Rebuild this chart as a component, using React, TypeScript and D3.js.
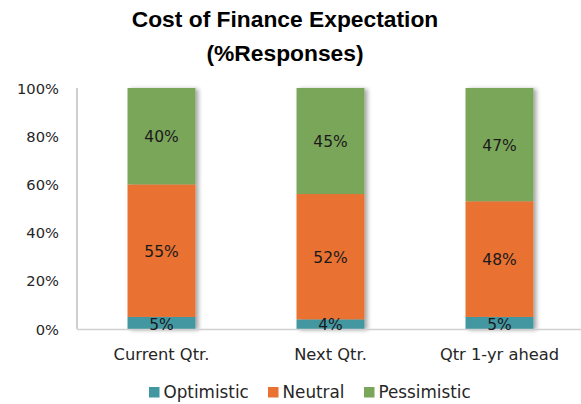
import React from "react";
import * as d3 from "d3";

const categories = ["Current Qtr.", "Next Qtr.", "Qtr 1-yr ahead"];
const seriesNames = ["Optimistic", "Neutral", "Pessimistic"];
const optimistic = [5, 4, 5];
const neutral = [55, 52, 48];
const pessimistic = [40, 45, 47];
const yTicks = [0, 20, 40, 60, 80, 100];
const colors = ["#4397A1", "#E97132", "#7AA65A"];

export default function App() {
  const W = 581, H = 404;
  const x = d3.scaleBand<string>().domain(categories).range([77, 584]).paddingInner(0.598).paddingOuter(0.299);
  const y = d3.scaleLinear().domain([0, 100]).range([329, 88]).clamp(true);
  const rows = categories.map((c, i) => ({ cat: c, Optimistic: optimistic[i], Neutral: neutral[i], Pessimistic: pessimistic[i] }));
  const stack = d3.stack<any>().keys(seriesNames)(rows);
  const font = "'DejaVu Sans', 'Liberation Sans', sans-serif";
  const titleFont = "'Liberation Sans', Arial, sans-serif";
  const legendSq = [149, 268, 364];
  return (
    <svg width={W} height={H} style={{ position: "absolute", left: 0, top: 0 }} fontFamily={font}>
      <defs>
        <filter id="sh" x="-20%" y="-5%" width="150%" height="110%">
          <feDropShadow dx="3" dy="1" stdDeviation="2" floodColor="#000" floodOpacity="0.35" />
        </filter>
      </defs>
      <rect width={W} height={H} fill="#fff" />
      <text x={285} y={27} textAnchor="middle" fontSize={22.8} fontWeight="bold" fill="#000" fontFamily={titleFont}>Cost of Finance Expectation</text>
      <text x={285} y={61} textAnchor="middle" fontSize={22.8} fontWeight="bold" fill="#000" fontFamily={titleFont}>(%Responses)</text>
      {yTicks.map((t) => (
        <text key={t} x={59} y={y(t) + 5.5} textAnchor="end" fontSize={14.7} fill="#262626">{t}%</text>
      ))}
      <line x1={77} x2={77} y1={88} y2={329} stroke="#BFBFBF" strokeWidth={1.5} />
      {categories.map((c, i) => (
        <g key={c} filter="url(#sh)">
          {stack.map((s, k) => (
            <rect key={k} x={x(c)} width={x.bandwidth()} y={y(s[i][1])} height={y(s[i][0]) - y(s[i][1])} fill={colors[k]} />
          ))}
        </g>
      ))}
      <line x1={77} x2={581} y1={329.5} y2={329.5} stroke="#D0D0D0" strokeWidth={1.5} />
      {categories.map((c, i) =>
        stack.map((s, k) => {
          const v = [optimistic, neutral, pessimistic][k][i];
          const yc = k === 0 ? 329 - 5 : (y(s[i][0]) + y(Math.min(100, s[i][1]))) / 2;
          return (
            <text key={c + k} x={x(c)! + x.bandwidth() / 2} y={yc + 6} textAnchor="middle" fontSize={15.5} fill="#1a1a1a">{v}%</text>
          );
        })
      )}
      {categories.map((c) => (
        <text key={c} x={x(c)! + x.bandwidth() / 2} y={360} textAnchor="middle" fontSize={16.3} fill="#262626">{c}</text>
      ))}
      {seriesNames.map((n, k) => (
        <g key={n}>
          <rect x={legendSq[k]} y={387} width={10.5} height={10.5} fill={colors[k]} />
          <text x={legendSq[k] + 14.5} y={397.5} fontSize={16.8} fill="#262626">{n}</text>
        </g>
      ))}
    </svg>
  );
}
